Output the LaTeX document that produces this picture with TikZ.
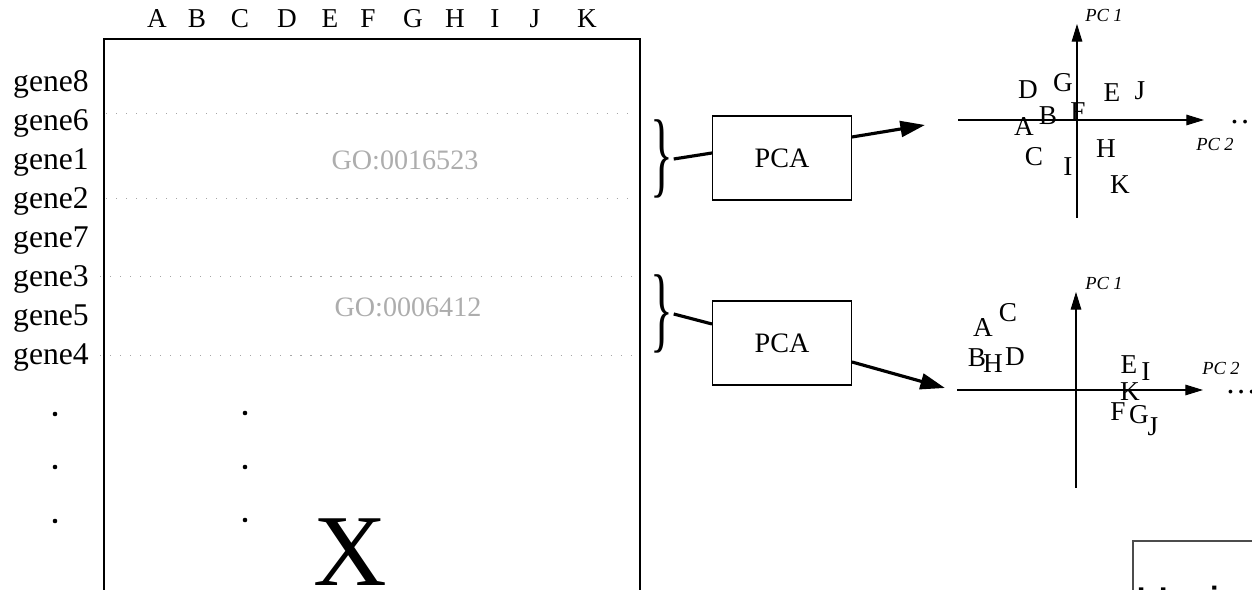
\documentclass[tikz,border=0pt]{standalone}
\usepackage{fontspec}
\setmainfont{Liberation Serif}
\newfontfamily\heisfont{Liberation Sans}
\usetikzlibrary{calc,arrows.meta}

\tikzset{
  genelab/.style={font=\fontsize{18}{20}\selectfont, anchor=base},
  collab/.style={font=\fontsize{15.5}{17}\selectfont},
  golab/.style={font=\fontsize{16}{18}\selectfont, text=black!32},
  pcabox/.style={draw, line width=0.6pt, minimum width=2.78cm, minimum height=1.68cm,
    font=\fontsize{16}{18}\selectfont},
  ptlab/.style={font=\fontsize{15.5}{17}\selectfont, inner sep=0pt},
  axlab/.style={font=\itshape\fontsize{10.5}{12}\selectfont},
  rowline/.style={black!35, dash pattern=on 0.7pt off 5pt},
  grpbrace/.style={inner sep=0pt},
  fatarrow/.style={line width=1.8pt, -{Triangle[length=14pt,width=9pt]}},
  fatline/.style={line width=1.8pt},
  pcaxis/.style={line width=0.6pt, -{Triangle[length=10pt,width=6pt]}},
}
\newcommand{\grpbr}{\scalebox{0.5}[1]{\fontsize{54}{54}\selectfont\}}}

\begin{document}
\begin{tikzpicture}[x=0.02cm, y=-0.02cm]
    \useasboundingbox (0,0) rectangle (1252,590);
    \clip (0,0) rectangle (1252,590);

    % data matrix
    \draw[line width=0.9pt] (104,39) rectangle (640,620);

    \node[collab] (cA) at (157,19) {A};
    \node[collab] (cB) at (197,19) {B};
    \node[collab] (cC) at (240,19) {C};
    \node[collab] (cD) at (287,19) {D};
    \node[collab] (cE) at (330,19) {E};
    \node[collab] (cF) at (368,19) {F};
    \node[collab] (cG) at (413,19) {G};
    \node[collab] (cH) at (455,19) {H};
    \node[collab] (cI) at (495,19) {I};
    \node[collab] (cJ) at (535,19) {J};
    \node[collab] (cK) at (587,19) {K};

    \node[genelab] (g8) at (51,92) {gene8};
    \node[genelab] (g6) at (51,131) {gene6};
    \node[genelab] (g1) at (51,170) {gene1};
    \node[genelab] (g2) at (51,209) {gene2};
    \node[genelab] (g7) at (51,248) {gene7};
    \node[genelab] (g3) at (51,287) {gene3};
    \node[genelab] (g5) at (51,326) {gene5};
    \node[genelab] (g4) at (51,365) {gene4};

    \draw[rowline] (106,113) -- (636,113);
    \draw[rowline] (106,198) -- (636,198);
    \draw[rowline] (100,276) -- (636,276);
    \draw[rowline] (100,355) -- (636,355);

    \node[golab] (go1) at (405,160) {GO:0016523};
    \node[golab] (go2) at (408,307) {GO:0006412};

    \fill (55,414) circle (1.3pt);
    \fill (55,467) circle (1.3pt);
    \fill (55,521) circle (1.3pt);
    \fill (245,413) circle (1.3pt);
    \fill (245,467) circle (1.3pt);
    \fill (245,520) circle (1.3pt);

    \node[font=\fontsize{58}{60}\selectfont, anchor=base, inner sep=0pt] (xmat) at (350,586) {X};

    % braces and PCA steps
    \node[grpbrace] (br1) at (662,159) {\grpbr};
    \node[grpbrace] (br2) at (662,314) {\grpbr};

    \node[pcabox] (pca1) at (782,158) {PCA};
    \node[pcabox] (pca2) at (782,343) {PCA};

    \coordinate (tip1) at (925,125);
    \coordinate (tip2) at (945,388);

    \draw[fatline] (br1.east) -- ($(pca1.west)+(0,-5)$);
    \draw[fatline] (br2.east) -- ($(pca2.west)+(0,-19)$);
    \draw[fatarrow] ($(pca1.east)+(0,-21)$) -- (tip1);
    \draw[fatarrow] ($(pca2.east)+(0,19)$) -- (tip2);

    % first score plot
    \coordinate (h1l) at (958,120);
    \coordinate (h1r) at (1204,120);
    \coordinate (v1b) at (1077,218);
    \coordinate (v1t) at (1077,24);
    \draw[pcaxis] (h1l) -- (h1r);
    \draw[pcaxis] (v1b) -- (v1t);
    \node[axlab] (pc1a) at (1104,15) {PC 1};
    \node[axlab] (pc2a) at (1215,144) {PC 2};
    \node[font=\fontsize{18}{20}\selectfont, anchor=base west, inner sep=0pt] (more1) at (1229,124) {\ldots};

    \node[ptlab] (aD) at (1028,90) {D};
    \node[ptlab] (aG) at (1063,83) {G};
    \node[ptlab] (aE) at (1112,93) {E};
    \node[ptlab] (aJ) at (1140,91) {J};
    \node[ptlab] (aB) at (1048,116) {B};
    \node[ptlab] (aF) at (1078,112) {F};
    \node[ptlab] (aA) at (1024,127) {A};
    \node[ptlab] (aC) at (1034,157) {C};
    \node[ptlab] (aI) at (1068,167) {I};
    \node[ptlab] (aH) at (1106,149) {H};
    \node[ptlab] (aK) at (1120,185) {K};

    % second score plot
    \coordinate (h2l) at (957,390);
    \coordinate (h2r) at (1203,390);
    \coordinate (v2b) at (1076,488);
    \coordinate (v2t) at (1076,292);
    \draw[pcaxis] (h2l) -- (h2r);
    \draw[pcaxis] (v2b) -- (v2t);
    \node[axlab] (pc1b) at (1104,283) {PC 1};
    \node[axlab] (pc2b) at (1221,368) {PC 2};
    \node[font=\fontsize{18}{20}\selectfont, anchor=base west, inner sep=0pt] (more2) at (1225,394) {\ldots};

    \node[ptlab] (bA) at (983,328) {A};
    \node[ptlab] (bC) at (1008,313) {C};
    \node[ptlab] (bB) at (977,358) {B};
    \node[ptlab] (bH) at (993,364) {H};
    \node[ptlab] (bD) at (1015,357) {D};
    \node[ptlab] (bE) at (1129,365) {E};
    \node[ptlab] (bI) at (1146,372) {I};
    \node[ptlab] (bK) at (1130,392) {K};
    \node[ptlab] (bF) at (1118,412) {F};
    \node[ptlab] (bG) at (1139,415) {G};
    \node[ptlab] (bJ) at (1153,427) {J};

    % cut-off box
    \draw[black!70, line width=0.8pt] (1133,620) -- (1133,541) -- (1260,541);
    \node[font=\heisfont\fontsize{27}{30}\selectfont, anchor=base west, inner sep=0pt] (heis) at (1135,621) {He is};
\end{tikzpicture}
\end{document}
